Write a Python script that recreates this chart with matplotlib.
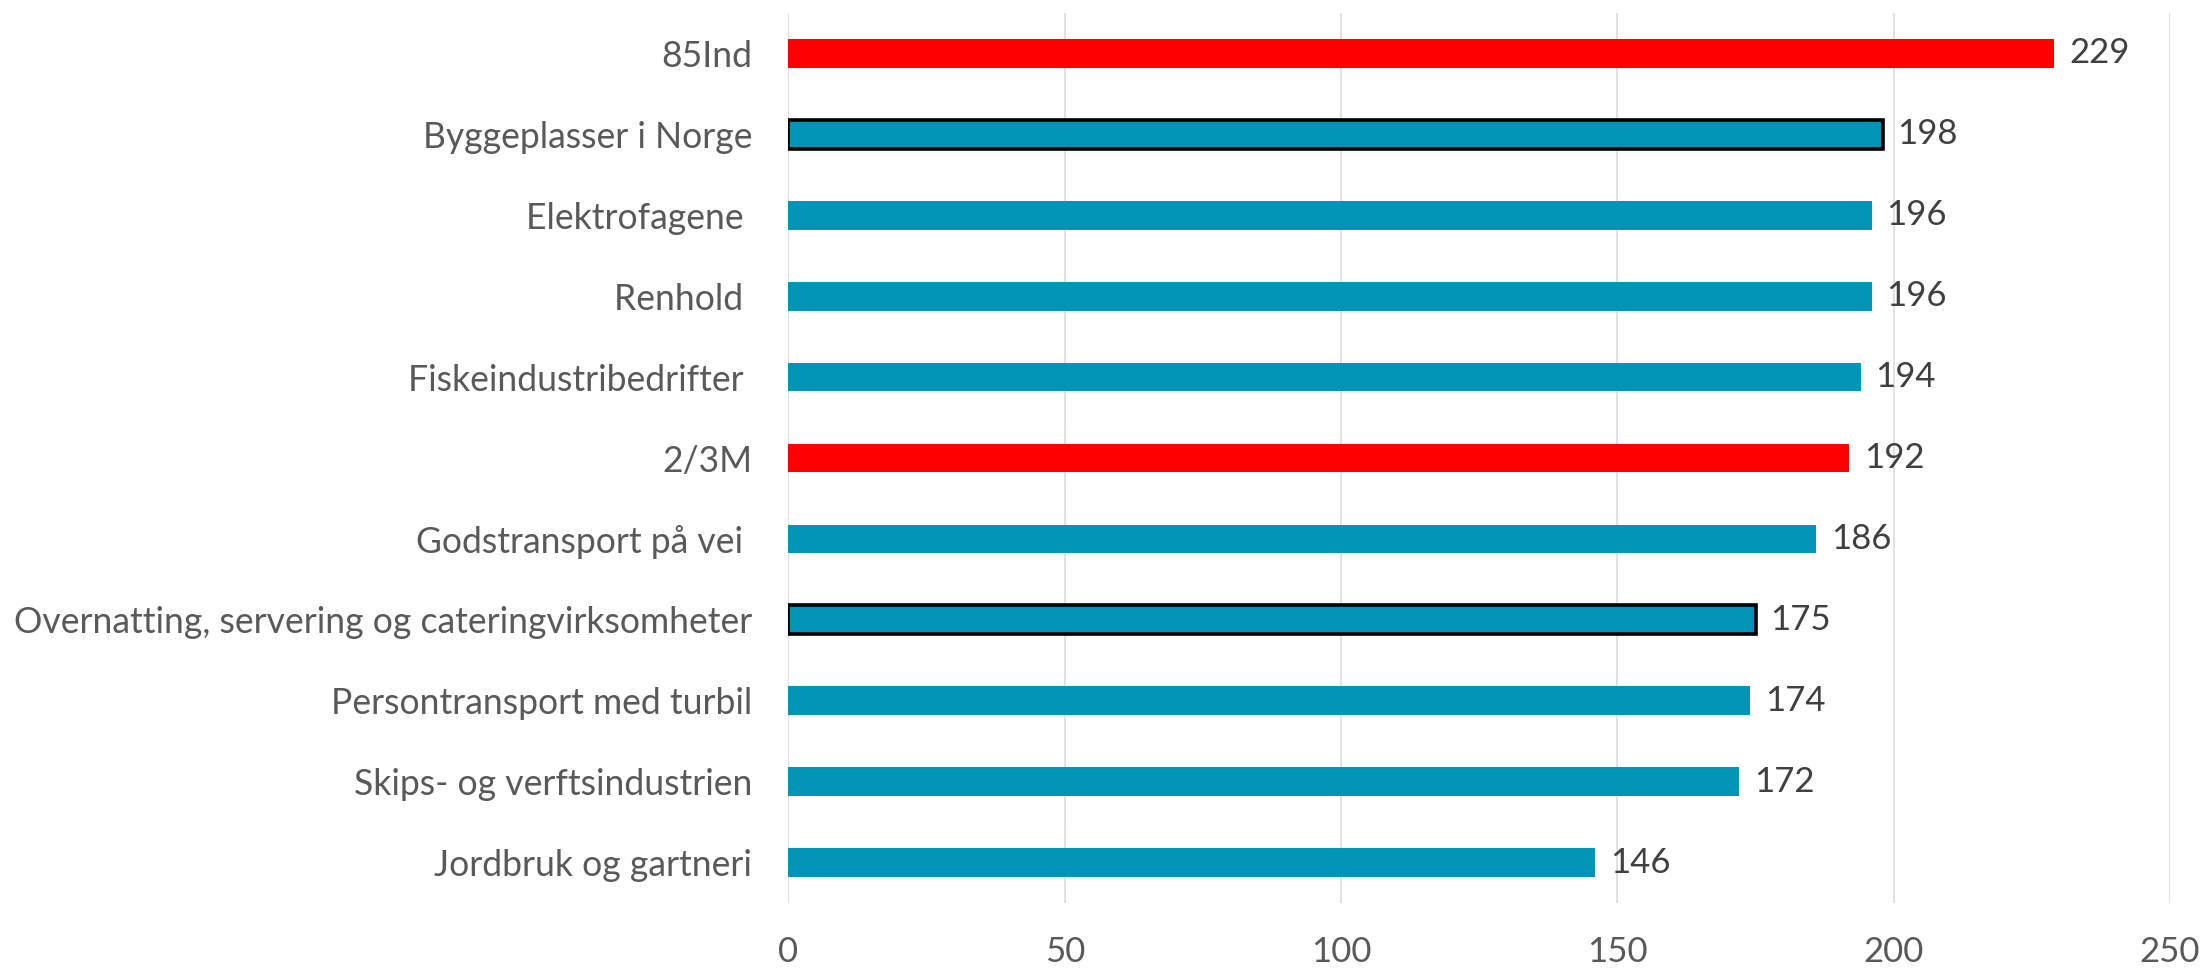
import matplotlib
matplotlib.use("Agg")
import matplotlib.pyplot as plt

categories = ["85Ind", "Byggeplasser i Norge", "Elektrofagene ", "Renhold ",
              "Fiskeindustribedrifter ", "2/3M", "Godstransport på vei ",
              "Overnatting, servering og cateringvirksomheter",
              "Persontransport med turbil", "Skips- og verftsindustrien",
              "Jordbruk og gartneri"]
values = [229, 198, 196, 196, 194, 192, 186, 175, 174, 172, 146]
highlight = [True, False, False, False, False, True, False, False, False, False, False]
outlined = [False, True, False, False, False, False, False, True, False, False, False]
xticks = [0, 50, 100, 150, 200, 250]

plt.rcParams['font.family'] = ['Lato', 'DejaVu Sans']

fig = plt.figure(figsize=(22.03, 9.69), dpi=100)
ax = fig.add_axes([0.3579, 0.0681, 0.98503 - 0.3579, 0.98658 - 0.0681])

teal = "#0095B6"
red = "#FF0000"
ypos = list(range(len(categories)))
colors = [red if h else teal for h in highlight]
bars = ax.barh(ypos, values, height=0.355, color=colors, zorder=3)
for b, o in zip(bars, outlined):
    if o:
        b.set_edgecolor("black")
        b.set_linewidth(2.6)

for y, v in zip(ypos, values):
    ax.text(v + 2.7, y, str(v), va="center", ha="left", fontsize=25,
            color="#404040", zorder=4)

ax.set_xlim(0, 250)
ax.set_ylim(10.5, -0.5)
ax.set_xticks(xticks)
ax.set_xticklabels([str(t) for t in xticks])
ax.set_yticks(ypos)
ax.set_yticklabels(categories)
ax.tick_params(axis="x", length=0, pad=24, labelsize=25, labelcolor="#595959")
ax.tick_params(axis="y", length=0, pad=26, labelsize=25.6, labelcolor="#595959")
ax.grid(axis="x", color="#D9D9D9", linewidth=1.1, zorder=0)
ax.grid(axis="y", visible=False)
for s in ax.spines.values():
    s.set_visible(False)

fig.savefig("out.png", dpi=100)
